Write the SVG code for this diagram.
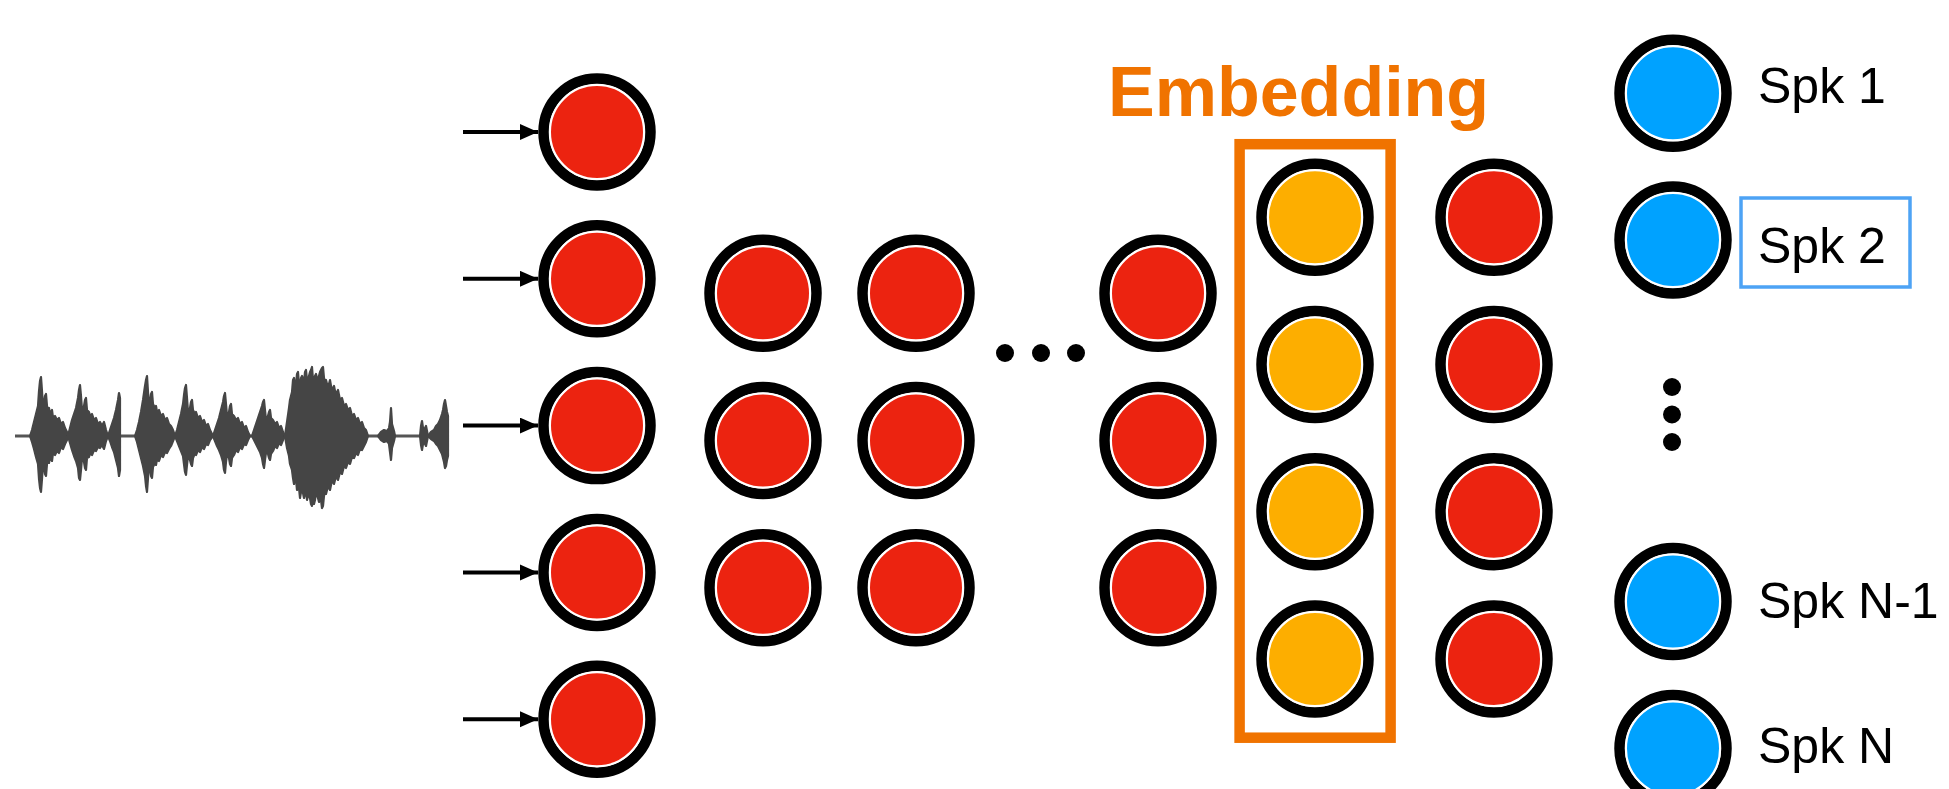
<svg xmlns="http://www.w3.org/2000/svg" width="1949" height="789" viewBox="0 0 1949 789">
<style>
.ring{fill:none;stroke:#000;stroke-width:10.5}
.red{fill:#EC2310;stroke:#fff;stroke-width:2}
.emb{fill:#FDAE00;stroke:#fff;stroke-width:2}
.spk{fill:#00A2FF;stroke:#fff;stroke-width:2}
.wave{fill:#454545;stroke:#454545;stroke-width:2.2;stroke-linejoin:round}
.lbl{font-family:"Liberation Sans",Arial,sans-serif;font-size:50px;fill:#000}
.dot{fill:#000}
.arrow{stroke:#000;stroke-width:4;fill:none;marker-end:url(#ah)}
</style>
<defs>
<marker id="ah" markerUnits="userSpaceOnUse" markerWidth="20" markerHeight="18" refX="18" refY="8" orient="auto">
<path d="M0,0 L18,8 L0,16 Z" fill="#000"/>
</marker>
<filter id="soft" x="-5%" y="-5%" width="110%" height="110%"><feGaussianBlur stdDeviation="0.5"/></filter>
</defs>
<rect width="1949" height="789" fill="#fff"/>

<g id="waveform" filter="url(#soft)">
<line x1="15" y1="436" x2="448" y2="436" stroke="#555" stroke-width="3"/>
<path class="wave" d="M30,436 L32,430 34,422 36,414 38,406 39,391 40,381 41,377 42,391 43,408 44,404 45,396 46,394 47,406 48,410 49,408 50,414 52,410 53,418 55,416 57,420 59,418 61,424 63,422 65,428 67,432 68,436 L67,440 65,444 63,449 61,447 59,453 57,451 55,455 53,453 52,461 50,457 49,463 48,461 47,464 46,476 45,474 44,466 43,463 42,479 41,492 40,488 39,479 38,464 36,457 34,449 32,442 Z"/>
<path class="wave" d="M68,436 L70,428 72,420 74,414 76,408 78,398 79,390 80,385 81,396 82,410 84,406 85,400 86,398 87,410 89,412 90,416 92,414 94,420 96,418 98,424 100,422 102,426 104,422 106,430 108,436 L106,441 104,449 102,445 100,448 98,447 96,451 94,450 92,455 90,453 89,457 87,458 86,470 85,468 84,462 82,458 81,470 80,480 79,478 78,468 76,461 74,456 72,450 70,443 Z"/>
<path class="wave" d="M108,436 L110,430 112,424 114,418 116,410 118,400 119,393 120,398 L120,470 119,476 118,468 116,460 114,452 112,447 110,441 Z"/>
<path class="wave" d="M135,436 L137,430 139,422 141,412 143,400 145,386 146,380 147,376 148,392 149,408 150,402 151,394 152,392 153,404 155,408 156,406 157,412 159,410 161,416 163,414 165,420 167,418 169,424 171,426 173,430 175,436 L173,441 171,446 169,449 167,453 165,452 163,457 161,455 159,461 157,459 156,465 155,463 153,467 152,478 151,476 150,469 149,462 148,478 147,492 146,486 145,476 143,466 141,458 139,450 137,442 Z"/>
<path class="wave" d="M175,436 L177,430 179,422 181,414 183,404 184,395 185,388 186,385 187,398 188,412 190,408 191,402 192,400 193,410 195,414 196,412 198,418 200,416 202,422 204,420 206,426 208,424 210,430 213,436 L210,440 208,445 206,444 204,449 202,447 200,452 198,450 196,455 195,453 193,458 192,466 191,464 190,460 188,456 187,465 186,475 185,472 184,464 183,456 181,451 179,446 177,441 Z"/>
<path class="wave" d="M213,436 L215,430 217,424 219,418 221,410 223,402 224,396 225,393 226,404 227,416 229,412 230,406 231,404 232,414 234,416 236,420 238,418 240,424 242,422 244,428 246,426 248,432 250,436 L248,440 246,445 244,444 242,449 240,447 238,452 236,450 234,455 232,458 231,466 230,464 229,458 227,454 226,462 225,473 224,470 223,462 221,455 219,450 217,446 215,441 Z"/>
<path class="wave" d="M252,436 L254,430 256,424 258,418 260,412 262,406 263,402 264,400 265,410 266,420 268,416 269,412 270,410 271,418 273,420 275,424 277,422 279,428 281,426 283,432 285,436 L283,440 281,445 279,443 277,448 275,446 273,451 271,454 270,460 269,458 268,454 266,452 265,460 264,468 263,464 262,458 260,452 258,448 256,444 254,440 Z"/>
<path class="wave" d="M285,436 L287,422 289,408 290,400 292,392 293,380 294,378 295,388 296,384 297,374 298,372 299,384 300,388 301,378 302,376 304,382 305,372 306,370 307,380 308,384 309,376 310,372 311,370 312,367 313,380 314,382 315,376 316,374 318,382 319,376 320,372 321,370 322,368 323,367 324,378 325,382 326,380 328,388 329,384 330,380 332,392 333,388 334,386 336,396 337,392 338,390 340,400 342,398 344,406 346,404 348,410 350,408 352,416 354,414 356,420 358,418 360,424 362,422 364,428 366,430 368,436 L366,442 364,446 362,450 360,449 358,455 356,453 354,458 352,457 350,464 348,462 346,468 344,466 342,474 340,472 338,480 337,478 336,476 334,484 333,482 332,480 330,490 329,488 328,486 326,494 325,492 324,496 323,506 322,508 321,500 320,496 319,502 318,498 316,492 315,500 314,504 313,496 312,506 311,504 310,498 309,492 308,496 307,500 306,490 305,494 304,498 302,488 301,492 300,498 299,488 298,484 297,490 296,480 295,476 294,484 293,478 292,470 290,464 289,456 287,448 Z"/>
<path class="wave" d="M378,436 L381,432 384,430 387,431 389,428 390,422 391,408 392,424 394,431 395,436 L394,441 392,448 391,460 390,452 389,444 387,441 384,442 381,440 Z"/>
<path class="wave" d="M420,436 L421,426 422,421 423,428 424,430 425,428 426,426 427,431 428,436 L427,441 426,446 425,444 424,442 423,444 422,450 421,445 Z"/>
<path class="wave" d="M428,436 L431,432 434,430 436,426 438,424 440,420 442,414 443,410 444,404 445,400 446,406 447,412 448,416 L448,456 447,460 446,466 445,468 444,462 443,458 442,454 440,450 438,446 436,444 434,441 431,439 Z"/>
</g>

<g id="connectors">
<line class="arrow" x1="463" y1="132" x2="538" y2="132"/>
<line class="arrow" x1="463" y1="278.8" x2="538" y2="278.8"/>
<line class="arrow" x1="463" y1="425.6" x2="538" y2="425.6"/>
<line class="arrow" x1="463" y1="572.4" x2="538" y2="572.4"/>
<line class="arrow" x1="463" y1="719.2" x2="538" y2="719.2"/>
</g>

<g id="input-1"><circle class="ring" cx="597" cy="132" r="53.5"/><circle class="red" cx="597" cy="132" r="47"/></g>
<g id="input-2"><circle class="ring" cx="597" cy="278.8" r="53.5"/><circle class="red" cx="597" cy="278.8" r="47"/></g>
<g id="input-3"><circle class="ring" cx="597" cy="425.6" r="53.5"/><circle class="red" cx="597" cy="425.6" r="47"/></g>
<g id="input-4"><circle class="ring" cx="597" cy="572.4" r="53.5"/><circle class="red" cx="597" cy="572.4" r="47"/></g>
<g id="input-5"><circle class="ring" cx="597" cy="719.2" r="53.5"/><circle class="red" cx="597" cy="719.2" r="47"/></g>

<g id="hidden1-1"><circle class="ring" cx="763" cy="293.3" r="53.5"/><circle class="red" cx="763" cy="293.3" r="47"/></g>
<g id="hidden1-2"><circle class="ring" cx="763" cy="440.5" r="53.5"/><circle class="red" cx="763" cy="440.5" r="47"/></g>
<g id="hidden1-3"><circle class="ring" cx="763" cy="587.7" r="53.5"/><circle class="red" cx="763" cy="587.7" r="47"/></g>

<g id="hidden2-1"><circle class="ring" cx="916" cy="293.3" r="53.5"/><circle class="red" cx="916" cy="293.3" r="47"/></g>
<g id="hidden2-2"><circle class="ring" cx="916" cy="440.5" r="53.5"/><circle class="red" cx="916" cy="440.5" r="47"/></g>
<g id="hidden2-3"><circle class="ring" cx="916" cy="587.7" r="53.5"/><circle class="red" cx="916" cy="587.7" r="47"/></g>

<g id="ellipsis-h">
<circle class="dot" cx="1005" cy="353" r="9"/>
<circle class="dot" cx="1041" cy="353" r="9"/>
<circle class="dot" cx="1076" cy="353" r="9"/>
</g>

<g id="hidden3-1"><circle class="ring" cx="1158" cy="293.3" r="53.5"/><circle class="red" cx="1158" cy="293.3" r="47"/></g>
<g id="hidden3-2"><circle class="ring" cx="1158" cy="440.5" r="53.5"/><circle class="red" cx="1158" cy="440.5" r="47"/></g>
<g id="hidden3-3"><circle class="ring" cx="1158" cy="587.7" r="53.5"/><circle class="red" cx="1158" cy="587.7" r="47"/></g>

<g id="embedding">
<text x="1108" y="116" font-family="'Liberation Sans',Arial,sans-serif" font-size="70" font-weight="bold" fill="#F07300">Embedding</text>
<rect x="1239.6" y="144.2" width="151" height="593.5" fill="none" stroke="#F07300" stroke-width="10.5"/>
</g>
<g id="emb-1"><circle class="ring" cx="1315" cy="217.3" r="53.5"/><circle class="emb" cx="1315" cy="217.3" r="47"/></g>
<g id="emb-2"><circle class="ring" cx="1315" cy="364.5" r="53.5"/><circle class="emb" cx="1315" cy="364.5" r="47"/></g>
<g id="emb-3"><circle class="ring" cx="1315" cy="511.7" r="53.5"/><circle class="emb" cx="1315" cy="511.7" r="47"/></g>
<g id="emb-4"><circle class="ring" cx="1315" cy="659" r="53.5"/><circle class="emb" cx="1315" cy="659" r="47"/></g>

<g id="out-1"><circle class="ring" cx="1494" cy="217.3" r="53.5"/><circle class="red" cx="1494" cy="217.3" r="47"/></g>
<g id="out-2"><circle class="ring" cx="1494" cy="364.5" r="53.5"/><circle class="red" cx="1494" cy="364.5" r="47"/></g>
<g id="out-3"><circle class="ring" cx="1494" cy="511.7" r="53.5"/><circle class="red" cx="1494" cy="511.7" r="47"/></g>
<g id="out-4"><circle class="ring" cx="1494" cy="659" r="53.5"/><circle class="red" cx="1494" cy="659" r="47"/></g>

<g id="spk-1"><circle class="ring" cx="1673" cy="93.3" r="53.5"/><circle class="spk" cx="1673" cy="93.3" r="47"/><text class="lbl" x="1758" y="103.3">Spk 1</text></g>
<g id="spk-2"><circle class="ring" cx="1673" cy="240" r="53.5"/><circle class="spk" cx="1673" cy="240" r="47"/><rect x="1741" y="198" width="169" height="89" fill="none" stroke="#4DA3F5" stroke-width="3.5"/><text class="lbl" x="1758" y="263.3">Spk 2</text></g>
<g id="ellipsis-v">
<circle class="dot" cx="1672" cy="387" r="9"/>
<circle class="dot" cx="1672" cy="414.5" r="9"/>
<circle class="dot" cx="1672" cy="442" r="9"/>
</g>
<g id="spk-n-1"><circle class="ring" cx="1673" cy="601.5" r="53.5"/><circle class="spk" cx="1673" cy="601.5" r="47"/><text class="lbl" x="1758" y="618.3">Spk N-1</text></g>
<g id="spk-n"><circle class="ring" cx="1673" cy="748.5" r="53.5"/><circle class="spk" cx="1673" cy="748.5" r="47"/><text class="lbl" x="1758" y="763.3">Spk N</text></g>
</svg>
